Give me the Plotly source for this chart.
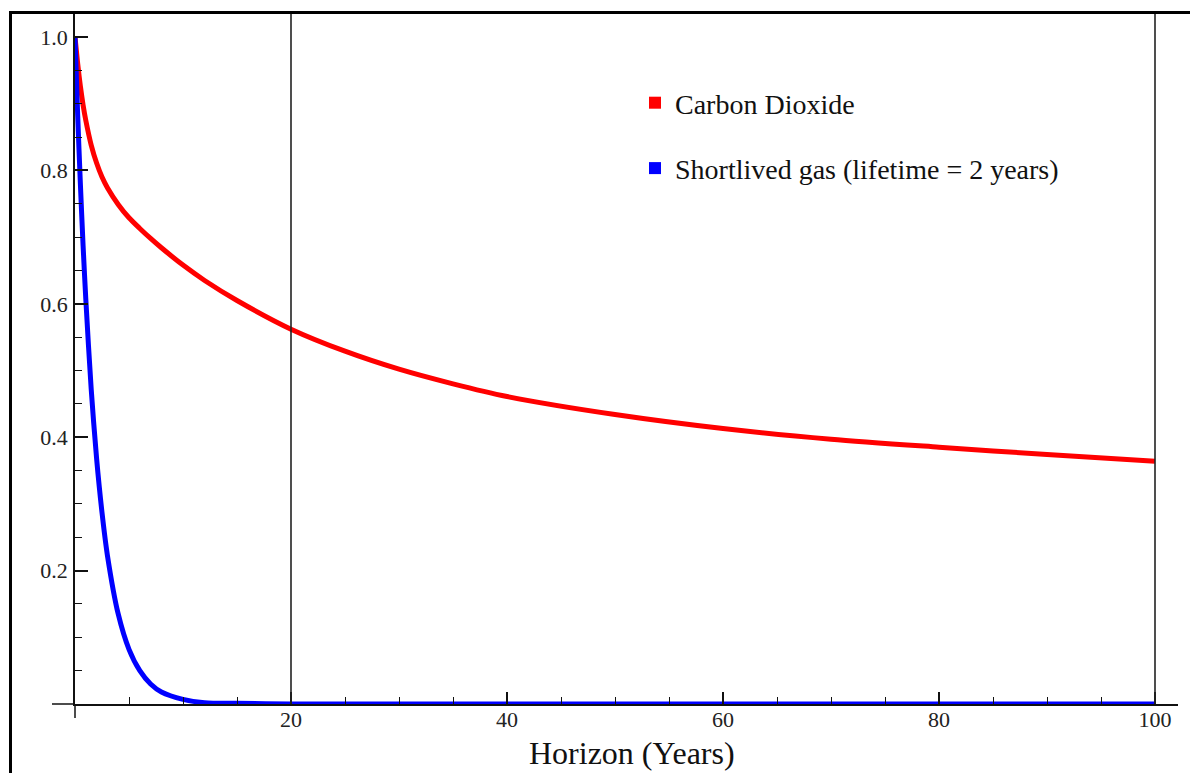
import plotly.graph_objects as go

W, H = 1190, 773

# ---- data ----
years = [0, 0.25, 0.5, 0.75, 1, 1.5, 2, 2.5, 3, 4, 5, 6, 7, 8, 10, 12, 15,
         20, 25, 30, 35, 40, 50, 60, 70, 80, 90, 100]
co2 = [1.000, 0.960, 0.926, 0.898, 0.875, 0.838, 0.811, 0.790, 0.774, 0.749,
       0.729, 0.713, 0.698, 0.684, 0.658, 0.635, 0.605, 0.562, 0.529, 0.502,
       0.480, 0.461, 0.434, 0.413, 0.397, 0.385, 0.374, 0.364]
shortlived = [1.000, 0.882, 0.779, 0.687, 0.607, 0.472, 0.368, 0.287, 0.223,
              0.135, 0.082, 0.050, 0.030, 0.018, 0.007, 0.002, 0.001, 0.0,
              0.0, 0.0, 0.0, 0.0, 0.0, 0.0, 0.0, 0.0, 0.0, 0.0]
series_names = ["Carbon Dioxide", "Shortlived gas (lifetime = 2 years)"]
series_colors = ["#ff0000", "#0000ff"]
x_tickvals = [20, 40, 60, 80, 100]
x_ticktext = ["20", "40", "60", "80", "100"]
y_tickvals = [0.2, 0.4, 0.6, 0.8, 1.0]
y_ticktext = ["0.2", "0.4", "0.6", "0.8", "1.0"]
vlines = [20, 100]

FONT = "Liberation Serif, Times New Roman, serif"

# pixel layout of the plot area
px_left, px_right, px_top, px_bottom = 75, 1178, 12, 704
px_per_year = 10.8
px_per_unit = 667.0

fig = go.Figure()

for name, vals, col in zip(series_names, [co2, shortlived], series_colors):
    fig.add_trace(go.Scatter(x=years, y=vals, mode="lines", name=name,
                             line=dict(color=col, width=5, shape="spline", smoothing=0.8),
                             showlegend=False, hoverinfo="skip", cliponaxis=False))

for i, (name, col) in enumerate(zip(series_names, series_colors)):
    fig.add_trace(go.Scatter(x=[None], y=[None], mode="markers", name=name,
                             marker=dict(symbol="square", size=12, color=col),
                             legendgroup="g%d" % i, showlegend=True))

xmax = (px_right - px_left) / px_per_year
ymax = (px_bottom - px_top) / px_per_unit

fig.update_layout(
    width=W, height=H,
    margin=dict(l=0, r=0, t=0, b=0),
    paper_bgcolor="white", plot_bgcolor="white",
    font=dict(family=FONT, color="#111"),
    xaxis=dict(domain=[px_left / W, px_right / W], range=[0, xmax],
               showgrid=False, zeroline=False, showline=True, linecolor="#111", linewidth=1.5,
               ticks="inside", ticklen=12, tickwidth=1.5, tickcolor="#111",
               tickvals=x_tickvals, ticktext=x_ticktext,
               tickfont=dict(family=FONT, size=22, color="#222"),
               ticklabelstandoff=-5,
               minor=dict(ticks="inside", ticklen=7, tickwidth=1.3, tickcolor="#111",
                          tick0=0, dtick=5, showgrid=False),
               fixedrange=True),
    yaxis=dict(domain=[(H - px_bottom) / H, (H - px_top) / H], range=[0, ymax],
               showgrid=False, zeroline=False, showline=True, linecolor="#111", linewidth=1.5,
               ticks="inside", ticklen=13, tickwidth=1.5, tickcolor="#111",
               tickvals=y_tickvals, ticktext=y_ticktext,
               tickfont=dict(family=FONT, size=22, color="#222"),
               ticklabelstandoff=1,
               minor=dict(ticks="inside", ticklen=7, tickwidth=1.3, tickcolor="#111",
                          tick0=0, dtick=0.05, showgrid=False),
               fixedrange=True),
    legend=dict(x=(657 - 22) / W, y=1 - 78 / H, xanchor="left", yanchor="top",
                font=dict(family=FONT, size=28, color="#111"),
                bgcolor="rgba(0,0,0,0)", tracegroupgap=26),
    showlegend=True,
)

shapes = []
for xv in vlines:
    shapes.append(dict(type="line", xref="x", yref="y domain", x0=xv, x1=xv, y0=0, y1=1,
                       line=dict(color="#222", width=1.6), layer="above"))
# axis extensions beyond the origin
shapes.append(dict(type="line", xref="paper", yref="paper", x0=52 / W, x1=px_left / W,
                   y0=(H - px_bottom) / H, y1=(H - px_bottom) / H,
                   line=dict(color="#111", width=1.5)))
shapes.append(dict(type="line", xref="paper", yref="paper", x0=px_left / W, x1=px_left / W,
                   y0=(H - px_bottom) / H, y1=(H - 718) / H,
                   line=dict(color="#111", width=1.5)))
# page frame
shapes.append(dict(type="rect", xref="paper", yref="paper", x0=10.5 / W, x1=1.02,
                   y0=-0.05, y1=1 - 12.5 / H, line=dict(color="#000", width=3)))
fig.update_layout(shapes=shapes)

fig.add_annotation(text="Horizon (Years)", xref="paper", yref="paper",
                   x=632 / W, y=1 - 753 / H, xanchor="center", yanchor="middle",
                   showarrow=False, font=dict(family=FONT, size=32, color="#111"))

fig.write_html("out.html")
